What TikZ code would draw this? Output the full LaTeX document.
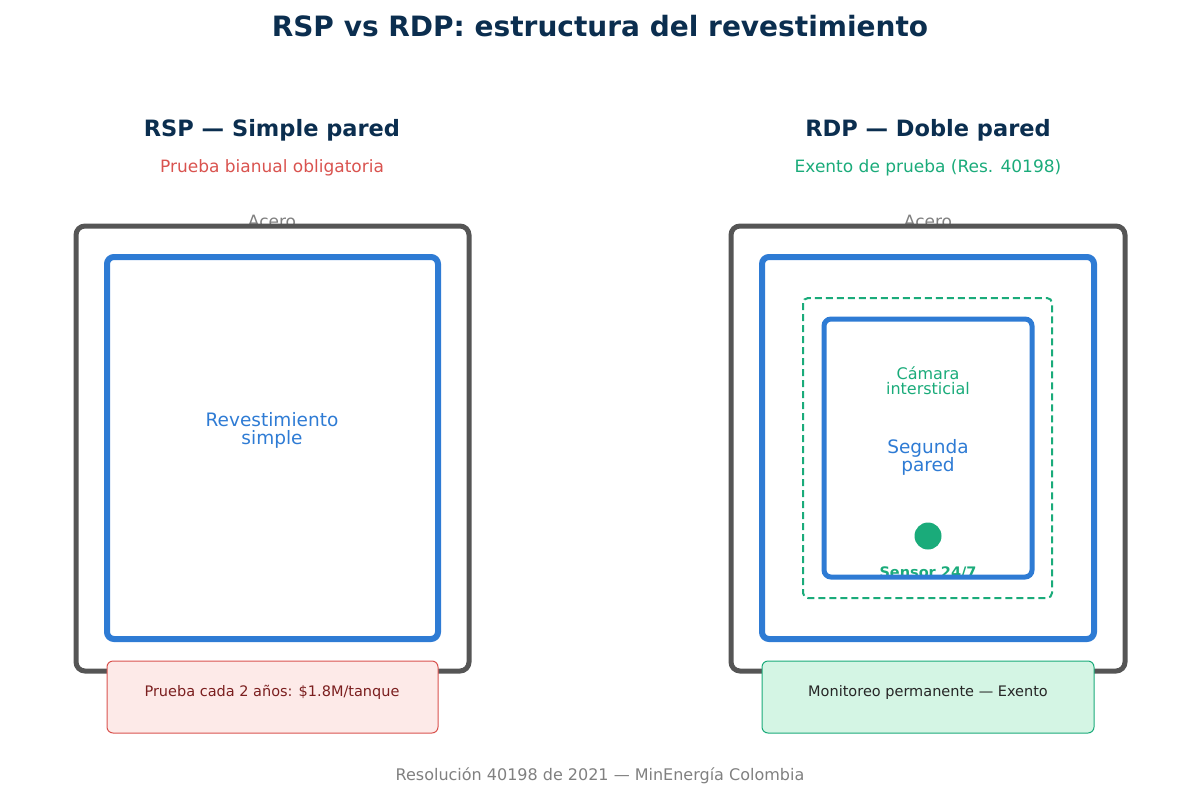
\documentclass[tikz,border=0pt]{standalone}
\usepackage{fontspec}
\setmainfont{DejaVu Sans}
\usetikzlibrary{positioning}
\definecolor{navy}{HTML}{0B2E4F}
\definecolor{steel}{HTML}{555555}
\definecolor{lblue}{HTML}{2E7BD4}
\definecolor{lred}{HTML}{D9534F}
\definecolor{dred}{HTML}{7B1F1F}
\definecolor{lgreen}{HTML}{1AAB7A}
\definecolor{pinkbg}{HTML}{FDEAE8}
\definecolor{mintbg}{HTML}{D4F5E4}
\tikzset{
  shell/.style={draw=steel,line width=5pt,rounded corners=9pt},
  liner/.style={draw=lblue,line width=6pt,rounded corners=7pt},
  gap/.style={draw=lgreen,line width=2pt,dashed,dash pattern=on 7pt off 4pt,rounded corners=5pt},
  note/.style={line width=1pt,rounded corners=6pt},
  head/.style={font=\fontsize{22.5}{26}\selectfont\bfseries,text=navy},
  sub/.style={font=\fontsize{17}{20}\selectfont},
  lbl/.style={font=\fontsize{18.5}{21}\selectfont,align=center,text=lblue},
}
\begin{document}
\begin{tikzpicture}[x=1pt,y=-1pt]
\useasboundingbox (0,0) rectangle (1200,798);
\node[font=\fontsize{28}{32}\selectfont\bfseries,text=navy] (title) at (600,26) {RSP vs RDP: estructura del revestimiento};

% left: single wall
\node[head] (hl) at (272,130) {RSP — Simple pared};
\node[sub,text=lred] (sl) at (272,168) {Prueba bianual obligatoria};
\node[sub,text=gray] (al) at (272,221) {Acero};
\draw[shell] (76,226) rectangle (469,671);
\draw[liner] (107,257) rectangle (438,639);
\node[lbl] (rl) at (272,430) {Revestimiento\\[-3pt]simple};
\draw[note,draw=lred,fill=pinkbg] (107,661) rectangle (438,733);
\node[font=\fontsize{14.5}{17}\selectfont,text=dred] (nl) at (272,692) {Prueba cada 2 años: \$1.8M/tanque};

% right: double wall
\node[head] (hr) at (928,130) {RDP — Doble pared};
\node[sub,text=lgreen] (sr) at (928,168) {Exento de prueba (Res. 40198)};
\node[sub,text=gray] (ar) at (928,221) {Acero};
\draw[shell] (731,226) rectangle (1125,671);
\draw[liner] (762,257) rectangle (1094,639);
\draw[gap] (803,298) rectangle (1052,598);
\node[font=\fontsize{14.5}{17}\selectfont\bfseries,text=lgreen] (sensor) at (928,573) {Sensor 24/7};
\draw[liner,line width=5pt] (824,319) rectangle (1032,577);
\node[font=\fontsize{16}{18}\selectfont,align=center,text=lgreen] (cam) at (928,381) {Cámara\\[-3pt]intersticial};
\node[lbl] (seg) at (928,457) {Segunda\\[-3pt]pared};
\fill[lgreen] (928,536) circle[radius=13.5];
\draw[note,draw=lgreen,fill=mintbg] (762,661) rectangle (1094,733);
\node[font=\fontsize{14.5}{17}\selectfont,text=black!85] (nr) at (928,692) {Monitoreo permanente — Exento};

\node[text=gray,font=\fontsize{16}{19}\selectfont] (foot) at (600,776) {Resolución 40198 de 2021 — MinEnergía Colombia};
\end{tikzpicture}
\end{document}
